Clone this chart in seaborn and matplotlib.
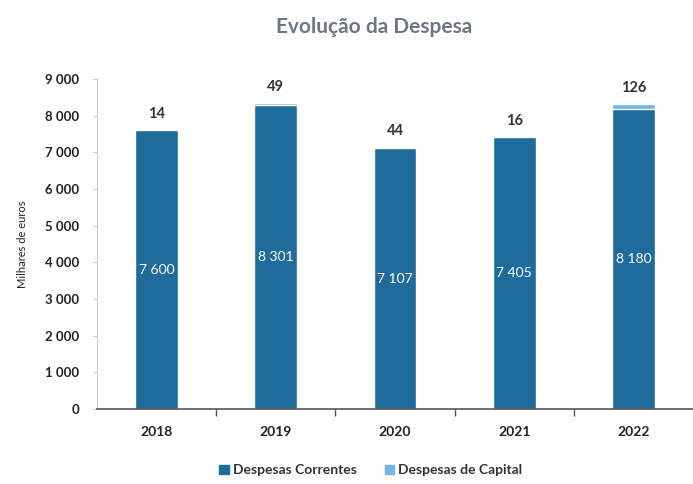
import matplotlib
matplotlib.use("Agg")
import matplotlib.pyplot as plt
import seaborn as sns
import pandas as pd
from matplotlib.patches import Patch
from matplotlib.ticker import FuncFormatter, FixedLocator

anos = ["2018", "2019", "2020", "2021", "2022"]
despesas_correntes = [7600, 8301, 7107, 7405, 8180]
despesas_capital = [14, 49, 44, 16, 126]

cor_correntes = "#1f6b9b"
cor_capital = "#74b6e3"

df = pd.DataFrame({
    "ano": anos,
    "correntes": despesas_correntes,
    "capital": despesas_capital,
})
df["total"] = df["correntes"] + df["capital"]

sns.set_style("white")
plt.rcParams["font.family"] = ["Lato", "DejaVu Sans"]

fig = plt.figure(figsize=(6.93, 4.84), dpi=100)
ax = fig.add_axes([0.14, 0.155, 0.86, 0.682])

# stacked bars: total (capital on top) then correntes over it
sns.barplot(data=df, x="ano", y="total", color=cor_capital, width=0.36,
            saturation=1, ax=ax)
sns.barplot(data=df, x="ano", y="correntes", color=cor_correntes, width=0.36,
            saturation=1, ax=ax)

ax.set_ylim(0, 9000)
ax.set_xlim(-0.5, 4.5)
ax.yaxis.set_major_locator(FixedLocator(range(0, 9001, 1000)))
ax.yaxis.set_major_formatter(FuncFormatter(lambda v, p: f"{int(v):,}".replace(",", " ")))

for i, (c, k) in enumerate(zip(despesas_correntes, despesas_capital)):
    ax.text(i, c + k + 250, str(k), ha="center", va="bottom",
            fontsize=10.5, fontweight="bold", color="#333333")
    ax.text(i, c / 2, f"{c:,}".replace(",", " "), ha="center", va="center",
            fontsize=10, color="white")

ax.set_xlabel("")
ax.set_ylabel("Milhares de euros", fontsize=8, color="#222222", labelpad=12)
ax.tick_params(axis="y", labelsize=9.5, colors="#222222", length=3, width=0.6,
               direction="out", left=True, pad=10)
for lab in ax.get_yticklabels():
    lab.set_fontweight("bold")
ax.tick_params(axis="y", color="#bbbbbb")
ax.tick_params(axis="x", length=0, labelsize=10, pad=12, colors="#222222")
for lab in ax.get_xticklabels():
    lab.set_fontweight("bold")

# category separators on the bottom axis
ax.set_xticks([0.5, 1.5, 2.5, 3.5], minor=True)
ax.tick_params(axis="x", which="minor", length=5, width=1, color="#555555",
               direction="out", bottom=True)

for side in ["top", "right"]:
    ax.spines[side].set_visible(False)
ax.spines["left"].set_color("#cccccc")
ax.spines["left"].set_linewidth(0.8)
ax.spines["bottom"].set_color("#555555")
ax.spines["bottom"].set_linewidth(1.2)

fig.suptitle("Evolução da Despesa", x=0.54, y=0.965, fontsize=15,
             fontweight="bold", color="#6e7681")

handles = [Patch(color=cor_correntes, label="Despesas Correntes"),
           Patch(color=cor_capital, label="Despesas de Capital")]
fig.legend(handles=handles, loc="center", bbox_to_anchor=(0.535, 0.028), ncol=2,
           frameon=False, prop={"size": 10, "weight": "bold"},
           handlelength=0.7, handleheight=0.7, handletextpad=0.3,
           columnspacing=2.0, labelcolor="#333333")

fig.savefig("out.png", dpi=100)
